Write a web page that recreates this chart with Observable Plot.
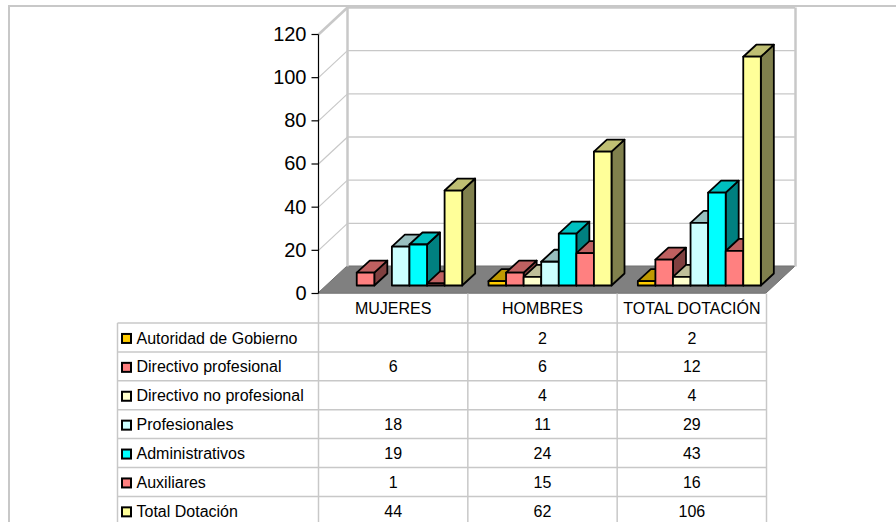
<!DOCTYPE html>
<html><head><meta charset="utf-8">
<script src="https://cdn.jsdelivr.net/npm/d3@7"></script>
<script src="https://cdn.jsdelivr.net/npm/@observablehq/plot@0.6"></script>
<style>
html,body{margin:0;padding:0;width:896px;height:522px;overflow:hidden;background:#fff;font-family:"Liberation Sans",Arial,sans-serif;}
#wrap{position:relative;width:896px;height:522px;overflow:hidden;}
#frame{position:absolute;left:8px;top:5px;right:0;bottom:0;border-top:2px solid #c8c8c8;border-left:2px solid #c8c8c8;}
#chart{position:absolute;left:0;top:0;}
</style></head><body>
<div id="wrap"><div id="frame"></div><div id="chart"></div></div>
<script>
// ---- data ----
const categories = ["MUJERES", "HOMBRES", "TOTAL DOTACIÓN"];
const seriesNames = ["Autoridad de Gobierno", "Directivo profesional", "Directivo no profesional", "Profesionales", "Administrativos", "Auxiliares", "Total Dotación"];
const autoridad = [null, 2, 2];
const directivoProfesional = [6, 6, 12];
const directivoNoProfesional = [null, 4, 4];
const profesionales = [18, 11, 29];
const administrativos = [19, 24, 43];
const auxiliares = [1, 15, 16];
const totalDotacion = [44, 62, 106];
const yTicks = [0, 20, 40, 60, 80, 100, 120];

// ---- styles ----
const seriesColors = ["#FFCC00", "#FF8080", "#FFFFCC", "#CCFFFF", "#00FFFF", "#FF8080", "#FFFF99"];
const shade = (c, f) => { const r = d3.rgb(c); return d3.rgb(r.r * f, r.g * f, r.b * f).formatHex(); };

// ---- layout (pixels -> data units through the linear scales) ----
const X0 = 318, X1 = 766, Y0 = 293, Y1 = 34;
const PX = (X1 - X0) / 3, PY = (Y0 - Y1) / 120;
const ux = p => p / PX, uy = p => p / PY;
const xAt = p => (p - X0) / PX, yAt = p => (Y0 - p) / PY;
const FX = ux(29), FY = uy(27);          // floor depth
const SX = ux(8), SY = uy(7.5);          // bar front offset
const DX = ux(13), DY = uy(12);          // bar depth
const PAD = ux(13.17), SLOT = (1 - 2 * PAD) / 7;
const ROW0 = 322.5, ROWH = 28.9;
const rowTop = k => ROW0 + ROWH * k;
const rowMid = k => ROW0 + ROWH * (k + 0.5) + 1;

const valueSeries = [autoridad, directivoProfesional, directivoNoProfesional, profesionales, administrativos, auxiliares, totalDotacion];

const bars = [];
categories.forEach((c, i) => valueSeries.forEach((vals, j) => {
  const v = vals[i];
  if (v == null) return;
  const xL = i + PAD + j * SLOT + SX;
  bars.push({id: i + "-" + j, v, xL, xR: xL + SLOT, color: seriesColors[j]});
}));
const sidePts = bars.flatMap(b => [
  {id: b.id, x: b.xR, y1: SY, y2: b.v + SY, fill: shade(b.color, 0.5)},
  {id: b.id, x: b.xR + DX, y1: SY + DY, y2: b.v + SY + DY, fill: shade(b.color, 0.5)}
]);
const topPts = bars.flatMap(b => [
  {id: b.id, y: b.v + SY, x1: b.xL, x2: b.xR, fill: shade(b.color, 0.75)},
  {id: b.id, y: b.v + SY + DY, x1: b.xL + DX, x2: b.xR + DX, fill: shade(b.color, 0.75)}
]);
const floorPts = [{y: 0, x1: 0, x2: 3}, {y: FY, x1: FX, x2: 3 + FX}];
const cells = [];
valueSeries.forEach((vals, j) => vals.forEach((v, i) => { if (v != null) cells.push({i, j, v}); }));

const grid = "#c8c8c8";
const barStroke = {stroke: "black", strokeWidth: 1.8, strokeLinejoin: "round"};

const chart = Plot.plot({
  width: 896, height: 522, margin: 0,
  x: {type: "linear", domain: [0, 3], range: [X0, X1], axis: null},
  y: {type: "linear", domain: [0, 120], range: [Y0, Y1], axis: null},
  color: {type: "identity"},
  style: {fontFamily: "'Liberation Sans', Arial, sans-serif", background: "transparent", overflow: "visible", color: "black"},
  marks: [
    // floor
    Plot.areaX(floorPts, {y: "y", x1: "x1", x2: "x2", fill: "#808080", stroke: "#707070", strokeWidth: 1}),
    // back wall grid lines
    Plot.ruleY(yTicks.filter(t => t > 0), {y: t => t + FY, x1: () => FX, x2: () => 3 + FX, stroke: grid, strokeWidth: t => t === 120 ? 2.5 : 1.3}),
    // left wall diagonals
    Plot.link(yTicks.filter(t => t > 0), {x1: () => 0, y1: t => t, x2: () => FX, y2: t => t + FY, stroke: grid, strokeWidth: t => t === 120 ? 2.5 : 1.2}),
    // wall vertical edges
    Plot.link([FX, 3 + FX], {x1: d => d, x2: d => d, y1: () => FY, y2: () => 120 + FY, stroke: grid, strokeWidth: 2.5}),
    // table lines
    Plot.link([0, 1, 2, 3, 4, 5, 6], {x1: () => xAt(117), x2: () => 3, y1: k => yAt(rowTop(k)), y2: k => yAt(rowTop(k)), stroke: grid, strokeWidth: 1.5}),
    Plot.link([0, 1, 2, 3], {x1: d => d, x2: d => d, y1: () => 0, y2: () => yAt(530), stroke: grid, strokeWidth: 1.5}),
    Plot.link([xAt(117)], {x1: d => d, x2: d => d, y1: () => yAt(rowTop(0)), y2: () => yAt(530), stroke: grid, strokeWidth: 1.5}),
    // y axis
    Plot.link([0], {x1: () => 0, x2: () => 0, y1: () => 0, y2: () => 120, stroke: "black", strokeWidth: 1.2}),
    Plot.link(yTicks, {x1: () => xAt(311), x2: () => 0, y1: t => t, y2: t => t, stroke: "black", strokeWidth: 1.2}),
    Plot.text(yTicks, {x: () => 0, y: t => t, text: t => String(t), textAnchor: "end", dx: -12, fontSize: 20, fill: "black"}),
    // bars: sides, tops, fronts
    Plot.areaY(sidePts, {x: "x", y1: "y1", y2: "y2", z: "id", fill: "fill", ...barStroke}),
    Plot.areaX(topPts, {y: "y", x1: "x1", x2: "x2", z: "id", fill: "fill", ...barStroke}),
    Plot.rect(bars, {x1: "xL", x2: "xR", y1: () => SY, y2: d => d.v + SY, fill: "color", ...barStroke}),
    // table header
    Plot.text(categories, {x: (d, i) => i + 0.5, y: () => yAt(308), text: d => d, fontSize: 16, fill: "black"}),
    // legend column
    Plot.rect(seriesNames, {x1: () => xAt(122), x2: () => xAt(131), y1: (d, j) => yAt(rowMid(j) + 5), y2: (d, j) => yAt(rowMid(j) - 4), fill: (d, j) => seriesColors[j], stroke: "black", strokeWidth: 2}),
    Plot.text(seriesNames, {x: () => xAt(136), y: (d, j) => yAt(rowMid(j)), text: d => d, textAnchor: "start", fontSize: 16, fill: "black"}),
    // values
    Plot.text(cells, {x: d => d.i + 0.5, y: d => yAt(rowMid(d.j)), text: d => String(d.v), fontSize: 16, fill: "black"})
  ]
});
document.getElementById("chart").appendChild(chart);
</script>
</body></html>
